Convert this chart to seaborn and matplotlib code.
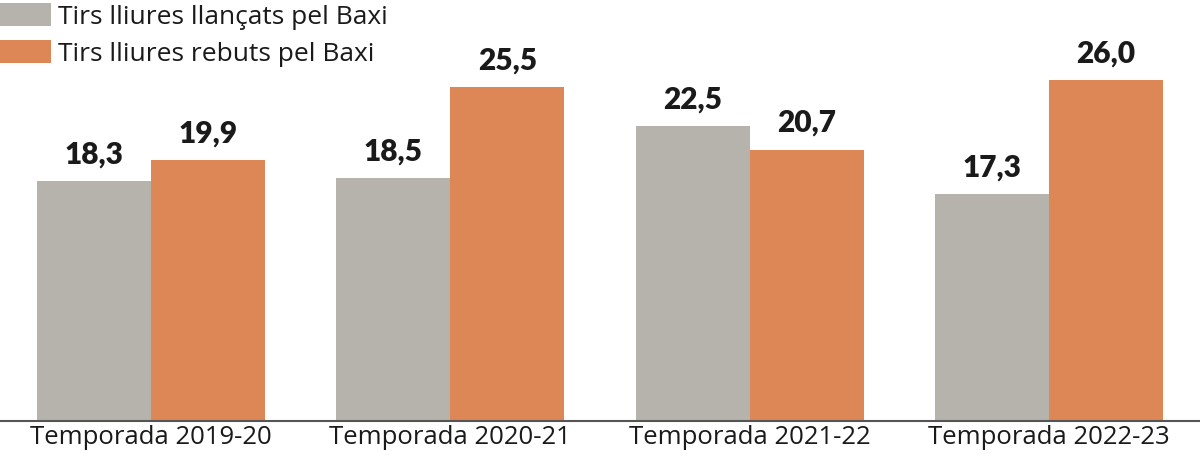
import matplotlib
matplotlib.use("Agg")
import matplotlib.pyplot as plt
import seaborn as sns
import pandas as pd
from matplotlib.patches import Patch

seasons = ["Temporada 2019-20", "Temporada 2020-21", "Temporada 2021-22", "Temporada 2022-23"]
series_names = ["Tirs lliures llançats pel Baxi", "Tirs lliures rebuts pel Baxi"]
llancats = [18.3, 18.5, 22.5, 17.3]
rebuts = [19.9, 25.5, 20.7, 26.0]
colors = ["#b5b3ab", "#dd8757"]

df = pd.DataFrame({
    "season": seasons * 2,
    "series": [series_names[0]] * 4 + [series_names[1]] * 4,
    "value": llancats + rebuts,
})

sns.set_theme(style="white")
plt.rcParams["font.family"] = ["Open Sans", "DejaVu Sans"]

fig = plt.figure(figsize=(12, 4.57), dpi=100)
ax = fig.add_axes([0, 36 / 457, 1, 421 / 457])

sns.barplot(data=df, x="season", y="value", hue="series", palette=colors,
            width=0.762, gap=0, ax=ax, legend=False, saturation=1, errorbar=None,
            linewidth=0, edgecolor="none")

ax.set_xlim(-0.505, 3.505)
ax.set_ylim(0, 32.1)
ax.set_xlabel("")
ax.set_ylabel("")
ax.set_yticks([])
for s in ["top", "right", "left"]:
    ax.spines[s].set_visible(False)
ax.spines["bottom"].set_color("#555555")
ax.spines["bottom"].set_linewidth(1.5)
ax.tick_params(axis="x", length=0, pad=3, labelsize=18.5, labelcolor="#1a1a1a")

for container in ax.containers:
    labels = [f"{v:.1f}".replace(".", ",") for v in container.datavalues]
    ax.bar_label(container, labels=labels, padding=9, fontsize=21.5,
                 fontweight="heavy", color="#1a1a1a",
                 family=["Lato", "DejaVu Sans"])

handles = [Patch(facecolor=c, edgecolor="none") for c in colors]
fig.legend(handles, series_names, loc="upper left", bbox_to_anchor=(0, 0.993),
           frameon=False, fontsize=19, handlelength=1.95, handleheight=0.95,
           handletextpad=0.25, labelspacing=0.4, borderpad=0, borderaxespad=0,
           labelcolor="#1a1a1a")

fig.savefig("out.png", dpi=100)
